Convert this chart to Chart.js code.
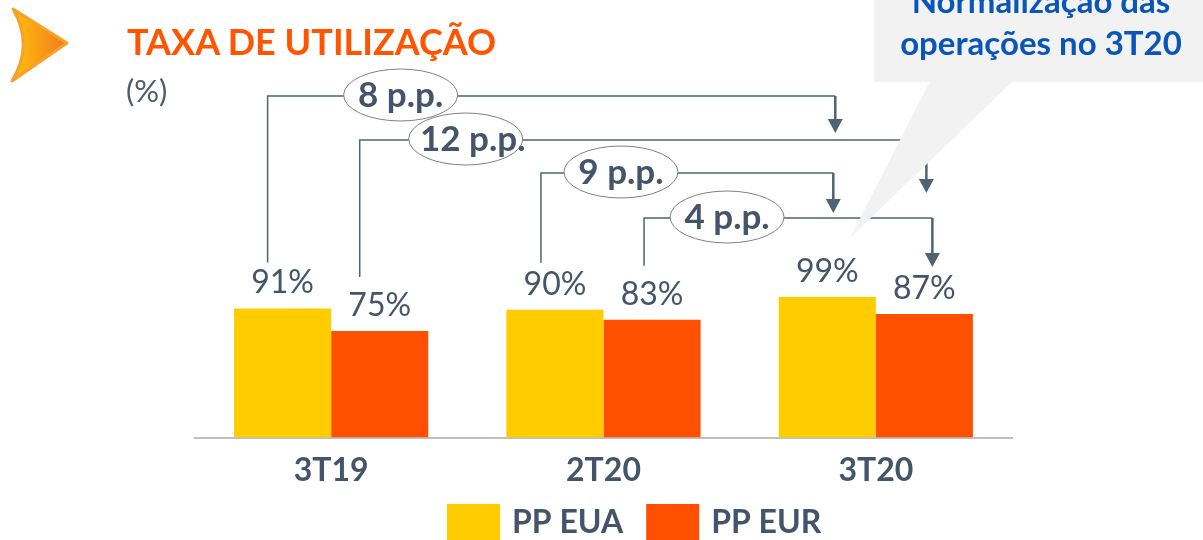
<!DOCTYPE html>
<html>
<head>
<meta charset="utf-8">
<script src="https://cdn.jsdelivr.net/npm/chart.js@4/dist/chart.umd.min.js"></script>
<style>
html, body { margin: 0; padding: 0; background: #fff; }
#wrap { position: relative; width: 1203px; height: 540px; overflow: hidden; }
#chart { position: absolute; left: 0; top: 0; }
#overlay { position: absolute; left: 0; top: 0; pointer-events: none; }
</style>
</head>
<body>
<div id="wrap">
<canvas id="chart" width="1203" height="540"></canvas>
<svg id="overlay" width="1203" height="540" xmlns="http://www.w3.org/2000/svg">
  <defs>
    <linearGradient id="logoGrad" x1="0" y1="0" x2="1" y2="0">
      <stop offset="0" stop-color="#ffc20a"/>
      <stop offset="1" stop-color="#f07a1e"/>
    </linearGradient>
  </defs>
  <path d="M13,9 L67,43 L12,81 Q34,45 13,9 Z" fill="url(#logoGrad)" stroke="#f7a02a" stroke-width="3" stroke-linejoin="round"/>
  <text x="127" y="55" font-family="Lato" font-weight="bold" font-size="36" fill="#ff5500">TAXA DE UTILIZAÇÃO</text>
  <text x="126" y="102" font-family="Lato" font-size="31" fill="#4d5d6b">(%)</text>
  <rect x="874" y="0" width="329" height="82" fill="#f2f2f2"/>
  <polygon points="930,81 1013,81 850,238" fill="#f2f2f2"/>
  <text x="1041" y="13" text-anchor="middle" font-family="Lato" font-weight="bold" font-size="33" fill="#0a56b8">Normalização das</text>
  <text x="1041" y="55" text-anchor="middle" font-family="Lato" font-weight="bold" font-size="33" fill="#0a56b8">operações no 3T20</text>
</svg>
</div>
<script>
// dados
const categories = ['3T19', '2T20', '3T20'];
const seriesNames = ['PP EUA', 'PP EUR'];
const ppEua = [91, 90, 99];
const ppEur = [75, 83, 87];

// variações (p.p.) entre barras da mesma série
const bracketLabels = ['8 p.p.', '12 p.p.', '9 p.p.', '4 p.p.'];
const bracketSeries = [0, 1, 0, 1];
const bracketFrom = [0, 0, 1, 1];
const bracketTo = [2, 2, 2, 2];

// layout das setas (px)
const bracketLevel = [96, 140, 173, 218];
const startDx = [-15, -20, -14, -8];
const endDx = [8, 2, 6, 8];
const startGap = [46, 54, 47, 54];
const endGap = [164, 121, 84, 47];
const ellipseDx = [133, 106, 80, 83];

const colors = ['#ffcc00', '#ff5000'];
const textColor = '#44546a';
const lineColor = '#4e6470';

const valueLabels = {
    id: 'valueLabels',
    afterDatasetsDraw( chart )
    {
        const ctx = chart.ctx;
        ctx.save();
        ctx.font = '32px Lato';
        ctx.fillStyle = textColor;
        ctx.textAlign = 'center';
        ctx.textBaseline = 'alphabetic';
        chart.data.datasets.forEach(( ds, di ) =>
        {
            chart.getDatasetMeta(di).data.forEach(( bar, i ) =>
            {
                ctx.fillText(ds.data[i] + '%', bar.x, bar.y - 15);
            });
        });
        ctx.restore();
    }
};

const brackets = {
    id: 'brackets',
    afterDatasetsDraw( chart )
    {
        const ctx = chart.ctx;
        ctx.save();
        let centers = [];

        bracketLabels.forEach(( label, b ) =>
        {
            const meta = chart.getDatasetMeta( bracketSeries[b] );
            const from = meta.data[ bracketFrom[b] ];
            const to = meta.data[ bracketTo[b] ];
            const x0 = from.x + startDx[b];
            const x1 = to.x + endDx[b];
            const y0 = from.y - startGap[b];
            const yl = bracketLevel[b];
            const tip = to.y - endGap[b];

            ctx.strokeStyle = lineColor;
            ctx.lineWidth = 1.5;
            ctx.beginPath();
            ctx.moveTo(x0, y0);
            ctx.lineTo(x0, yl);
            ctx.lineTo(x1, yl);
            ctx.stroke();

            ctx.lineWidth = 2.5;
            ctx.beginPath();
            ctx.moveTo(x1, yl);
            ctx.lineTo(x1, tip - 12);
            ctx.stroke();

            ctx.fillStyle = lineColor;
            ctx.beginPath();
            ctx.moveTo(x1 - 7.5, tip - 14);
            ctx.lineTo(x1 + 7.5, tip - 14);
            ctx.lineTo(x1, tip);
            ctx.closePath();
            ctx.fill();

            centers.push([ x0 + ellipseDx[b], yl ]);
        });

        bracketLabels.forEach(( label, b ) =>
        {
            const [ex, ey] = centers[b];
            ctx.beginPath();
            ctx.ellipse(ex, ey - 1, 57, 26, 0, 0, Math.PI * 2);
            ctx.fillStyle = '#fff';
            ctx.fill();
            ctx.lineWidth = 1;
            ctx.strokeStyle = '#808080';
            ctx.stroke();

            ctx.fillStyle = textColor;
            ctx.font = 'bold 35px Lato';
            ctx.textAlign = 'center';
            ctx.textBaseline = 'middle';
            ctx.fillText(label, ex + (label.length > 6 ? 7 : 0), ey);
        });
        ctx.restore();
    }
};

const bottomLegend = {
    id: 'bottomLegend',
    afterDraw( chart )
    {
        const ctx = chart.ctx;
        ctx.save();
        ctx.font = 'bold 32px Lato';
        ctx.textBaseline = 'alphabetic';
        ctx.textAlign = 'left';
        let x = 447;
        chart.data.datasets.forEach(( ds ) =>
        {
            ctx.fillStyle = ds.backgroundColor;
            ctx.fillRect(x, 504, 53, 53);
            ctx.fillStyle = textColor;
            ctx.fillText(ds.label, x + 65, 533);
            x += 65 + ctx.measureText(ds.label).width + 23;
        });
        ctx.restore();
    }
};

new Chart(document.getElementById('chart'), {
    type: 'bar',
    data: {
        labels: categories,
        datasets: [
            { label: seriesNames[0], data: ppEua, backgroundColor: colors[0] },
            { label: seriesNames[1], data: ppEur, backgroundColor: colors[1] }
        ]
    },
    options: {
        responsive: false,
        animation: false,
        devicePixelRatio: 1,
        layout: { padding: { left: 195, right: 191, top: 40, bottom: 36 } },
        datasets: { bar: { categoryPercentage: 0.713, barPercentage: 1 } },
        plugins: {
            legend: { display: false },
            tooltip: { enabled: false }
        },
        scales: {
            x: {
                grid: { display: false, drawTicks: false },
                border: { display: true, color: '#bfbfbf', width: 2 },
                ticks: {
                    color: textColor,
                    padding: 14,
                    font: { family: 'Lato', weight: 'bold', size: 32 }
                }
            },
            y: {
                display: false,
                min: 0,
                max: 280
            }
        }
    },
    plugins: [ valueLabels, brackets, bottomLegend ]
});
</script>
</body>
</html>
